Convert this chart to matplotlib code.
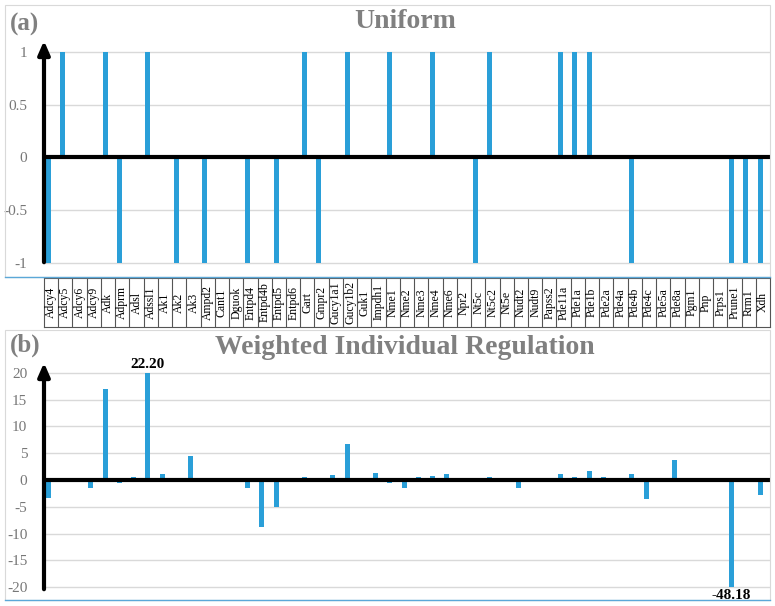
import matplotlib
matplotlib.use("Agg")
import matplotlib.pyplot as plt
from matplotlib.patches import Rectangle

genes = ["Adcy4","Adcy5","Adcy6","Adcy9","Adk","Adprm","Adsl","Adssl1","Ak1","Ak2","Ak3",
         "Ampd2","Cant1","Dguok","Entpd4","Entpd4b","Entpd5","Entpd6","Gart","Gmpr2",
         "Gucy1a1","Gucy1b2","Guk1","Impdh1","Nme1","Nme2","Nme3","Nme4","Nme6","Npr2",
         "Nt5c","Nt5c2","Nt5e","Nudt2","Nudt9","Papss2","Pde11a","Pde1a","Pde1b","Pde2a",
         "Pde4a","Pde4b","Pde4c","Pde5a","Pde8a","Pgm1","Pnp","Prps1","Prune1","Rrm1","Xdh"]
uniform = [-1,1,0,0,1,-1,0,1,0,-1,0,-1,0,0,-1,0,-1,0,1,-1,0,1,0,0,1,0,0,1,0,0,
           -1,1,0,0,0,0,1,1,1,0,0,-1,0,0,0,0,0,0,-1,-1,-1]
weighted = [-3.4,0,0,-1.4,17.0,-0.5,0.5,22.20,1.2,0,4.4,-0.3,0,0,-1.5,-8.7,-5.0,0,0.5,0,
            1.0,6.8,0,1.3,-0.5,-1.4,0.5,0.8,1.2,-0.3,0,0.5,0,-1.4,0,0.2,1.1,0.6,1.7,0.6,
            -0.2,1.2,-3.5,0.2,3.8,0.1,0,0.3,-48.18,0,-2.8]
a_ticks = [-1,-0.5,0,0.5,1]
a_ticklabels = ["-1","-0.5","0","0.5","1"]
b_ticks = [-20,-15,-10,-5,0,5,10,15,20]

W, H = 775, 606
fig = plt.figure(figsize=(W/100, H/100), dpi=100)
plt.rcParams["font.family"] = "Liberation Serif"
blue = "#2A9FD8"
grey = "#808080"

for (x0, y0, x1, y1) in [(5, 5, 770, 277), (5, 330, 770, 600)]:
    fig.add_artist(Rectangle((x0/W, 1-y1/H), (x1-x0)/W, (y1-y0)/H, transform=fig.transFigure,
                             fill=False, ec="#D9D9D9", lw=0.8))
    fig.add_artist(plt.Line2D([x0/W, x1/W], [1-y1/H, 1-y1/H], transform=fig.transFigure,
                              color="#5BA8D8", lw=1))

L, Wd = 44/W, 726/W
n = len(genes)
xs = list(range(n))

def style(ax, ticks, labels):
    for s in ax.spines.values():
        s.set_visible(False)
    ax.set_xticks([])
    ax.set_yticks(ticks)
    ax.set_yticklabels(labels, color="#777777", fontsize=11)
    ax.tick_params(axis="y", length=0, pad=12)
    ax.grid(axis="y", color="#D9D9D9", lw=1)
    ax.set_axisbelow(True)
    ax.axhline(0, color="black", lw=3, zorder=3)
    ax.annotate("", xy=(-0.3, ax.get_ylim()[1]), xytext=(-0.3, ax.get_ylim()[0]),
                xycoords="data", arrowprops=dict(arrowstyle="-|>,head_width=0.35,head_length=0.8",
                                                 color="black", lw=3), annotation_clip=False)

axa = fig.add_axes([L, 1-265/H, Wd, (265-38)/H])
axa.bar(xs, uniform, width=0.35, color=blue, zorder=2)
axa.set_xlim(-0.3, n-0.3)
axa.set_ylim(-1.02, 1.13)
style(axa, a_ticks, a_ticklabels)
fig.text(10/W, 1-24/H, "(a)", fontsize=18, fontweight="bold", color=grey, va="center")
fig.text(405/W, 1-22/H, "Uniform", fontsize=20, fontweight="bold", color=grey, ha="center", va="center")

axt = fig.add_axes([L, 1-327/H, Wd, (327-278)/H])
axt.set_xlim(0, n)
axt.set_ylim(0, 1)
axt.set_xticks([]); axt.set_yticks([])
for s in axt.spines.values():
    s.set_color("#555555"); s.set_linewidth(0.8)
for i, g in enumerate(genes):
    if i > 0:
        axt.axvline(i, color="#555555", lw=0.8)
    axt.text(i+0.5, 0.5, g, rotation=90, ha="center", va="center", fontsize=8.5)

axb = fig.add_axes([L, 1-592/H, Wd, (592-360)/H])
wclip = [max(min(v, 20), -20) for v in weighted]
axb.bar(xs, wclip, width=0.35, color=blue, zorder=2)
axb.set_xlim(-0.3, n-0.3)
axb.set_ylim(-20.9, 22.4)
style(axb, b_ticks, [str(t) for t in b_ticks])
for i, v in enumerate(weighted):
    if abs(v) > 20:
        axb.text(i, wclip[i] + (0.4 if v > 0 else -0.4), f"{v:.2f}", ha="center",
                 va="bottom" if v > 0 else "top", fontsize=11, fontweight="bold")
fig.text(10/W, 1-345/H, "(b)", fontsize=18, fontweight="bold", color=grey, va="center")
fig.text(405/W, 1-347/H, "Weighted Individual Regulation", fontsize=20, fontweight="bold",
         color=grey, ha="center", va="center")

fig.savefig("out.png", dpi=100)
